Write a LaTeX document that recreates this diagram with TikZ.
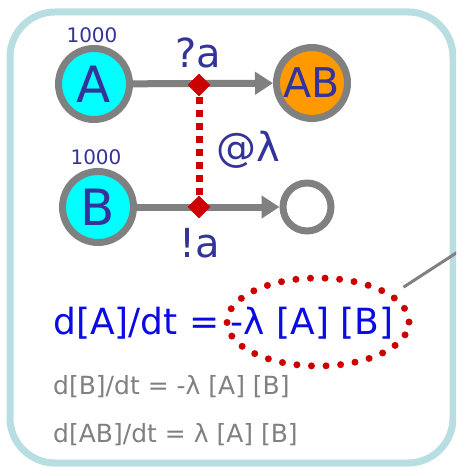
\documentclass[tikz,border=0pt]{standalone}
\usepackage{fontspec}
\setmainfont{DejaVu Sans}
\usetikzlibrary{shapes.geometric, arrows.meta, positioning}

\definecolor{frameblue}{RGB}{184,222,226}
\definecolor{inkblue}{RGB}{51,51,153}
\definecolor{eqblue}{RGB}{10,10,230}
\definecolor{gatered}{RGB}{204,0,0}
\definecolor{abfill}{RGB}{255,153,0}
\definecolor{afill}{RGB}{0,255,255}

\begin{document}
\begin{tikzpicture}[
    x=1pt, y=-1pt,
    species/.style={circle, draw=gray, line width=7pt, minimum size=71pt, inner sep=0pt, text=inkblue, font=\fontsize{50}{50}\selectfont},
    gate/.style={diamond, fill=gatered, minimum size=23pt, inner sep=0pt},
    flow/.style={draw=gray, line width=7pt, -{Triangle[length=18pt, width=22pt]}},
    link/.style={draw=gatered, line width=7pt, dash pattern=on 7pt off 6pt},
    chan/.style={text=inkblue, font=\fontsize{40}{40}\selectfont},
    count/.style={text=inkblue, font=\fontsize{20}{20}\selectfont},
    eqn/.style={anchor=west, inner sep=0pt},
    hilite/.style={ellipse, draw=gatered, line width=7pt, line cap=round, dash pattern=on 0pt off 14.6pt, minimum width=182pt, minimum height=88pt},
    callout/.style={draw=gray, line width=3pt}
  ]
    \clip (0,0) rectangle (456,470);
    \useasboundingbox (0,0) rectangle (456,470);

    % enclosing frame
    \draw[frameblue, line width=7pt, rounded corners=45pt] (10,12) rectangle (453,463);

    % species
    \node[species, fill=afill] (A) at (94,84) {A};
    \node[species, fill=abfill, font=\fontsize{41}{41}\selectfont] (AB) at (312,83) {AB};
    \node[species, fill=afill] (B) at (98,207) {B};
    \node[species, minimum size=48pt] (sink) at (307,207) {};

    \node[count] (nA) at (92,35) {1000};
    \node[count] (nB) at (96,157) {1000};

    % reaction channel
    \draw[flow] (A) -- (AB);
    \draw[flow] (B) -- (sink);
    \node[gate] (qa) at (199,85) {};
    \node[gate] (ea) at (199,207) {};
    \draw[link] (qa) -- (ea);

    \node[chan] at (198,53) {?a};
    \node[chan] at (248,150) {@λ};
    \node[chan] at (200,243) {!a};

    % rate equations
    \node[eqn, text=eqblue, font=\fontsize{36}{36}\selectfont] (eqA) at (53,323) {d[A]/dt = -λ [A] [B]};
    \node[eqn, text=gray, font=\fontsize{25}{25}\selectfont] (eqB) at (53,387) {d[B]/dt = -λ [A] [B]};
    \node[eqn, text=gray, font=\fontsize{25}{25}\selectfont] (eqAB) at (53,435) {d[AB]/dt = λ [A] [B]};

    \node[hilite] (rate) at (318,322) {};
    \coordinate (out) at (470,244);
    \draw[callout] ([xshift=9pt, yshift=7pt]rate.20) -- (out);
  \end{tikzpicture}
\end{document}
